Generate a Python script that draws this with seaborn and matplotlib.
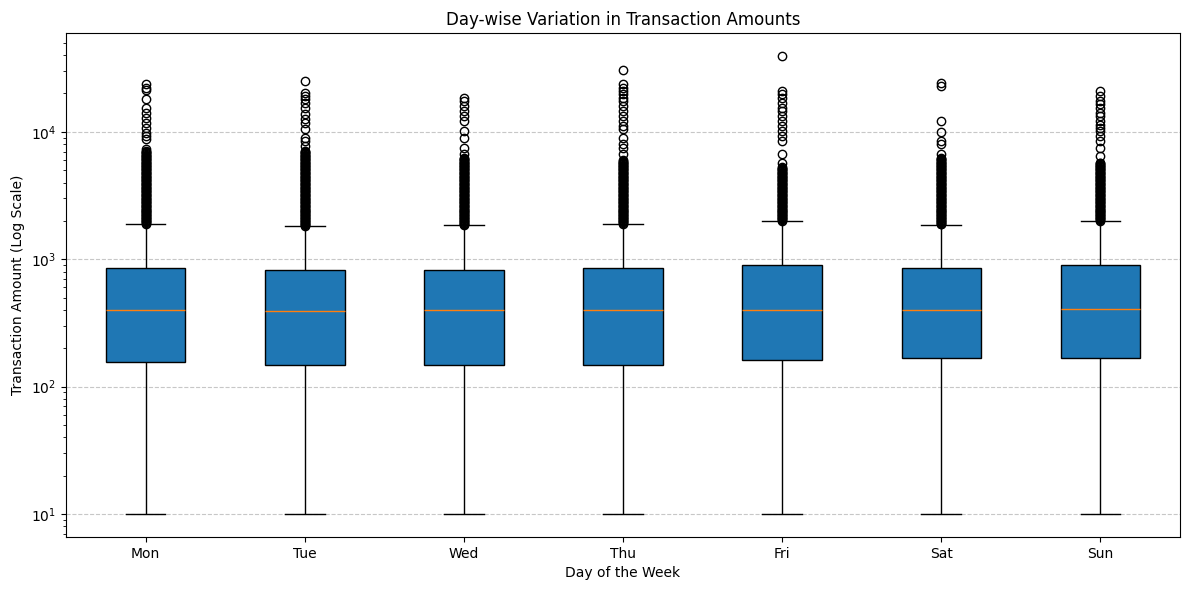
import pandas as pd
import numpy as np
import matplotlib
matplotlib.use("Agg")
import matplotlib.pyplot as plt
import seaborn as sns

days = ["Mon", "Tue", "Wed", "Thu", "Fri", "Sat", "Sun"]

# box summary
whis_lo = [10, 10, 10, 10, 10, 10, 10]
q1 = [156, 148, 148, 148, 162, 168, 168]
med = [398, 391, 398, 398, 398, 398, 405]
q3 = [850, 820, 825, 850, 897, 850, 897]
whis_hi = [1890, 1820, 1840, 1900, 1995, 1870, 1985]

# the solid band of outliers just above each whisker
dense_amounts = [1830, 1855, 1880, 1905, 1930, 1955, 1980, 2005, 2030, 2060, 2090, 2120,
                 2150, 2180, 2210, 2240, 2270, 2300, 2330, 2360, 2390, 2420, 2455, 2490,
                 2525, 2560, 2595, 2630, 2670, 2710, 2750, 2790, 2830, 2870, 2910, 2950,
                 2990, 3030, 3075, 3120, 3165, 3210, 3255, 3300, 3350, 3400, 3450, 3500,
                 3550, 3600, 3650, 3700, 3755, 3810, 3865, 3920, 3975, 4030, 4090, 4150,
                 4210, 4270, 4330, 4390, 4455, 4520, 4585, 4650, 4715, 4780, 4850, 4920,
                 4990, 5060, 5130, 5200, 5275, 5350, 5425, 5500, 5580, 5660, 5740, 5820,
                 5900, 5985, 6070, 6155, 6240, 6330, 6420, 6510, 6600, 6695, 6790, 6885,
                 6980, 7080, 7180, 7280]
dense_lo = [1900, 1830, 1845, 1905, 2005, 1880, 1990]
dense_hi = [7100, 7100, 6260, 6020, 5300, 6300, 5800]

# sparse outliers above the band
mon_fliers = [7300, 8730, 9300, 9850, 10800, 11800, 12900, 14100, 15500, 18000,
              21100, 22200, 23600]
tue_fliers = [7740, 8470, 9000, 10500, 11800, 12500, 13700, 15500, 16900, 18000,
              19100, 20300, 25000]
wed_fliers = [6660, 7500, 9000, 10100, 12200, 13300, 14600, 15900, 17500, 18500]
thu_fliers = [6660, 7500, 7980, 9000, 10500, 11100, 12200, 13300, 14600, 15900,
              17500, 18500, 19700, 20900, 22200, 23600, 30300]
fri_fliers = [5730, 6660, 8470, 9270, 10100, 11100, 12200, 13300, 14600, 15500,
              16900, 18500, 19700, 20900, 39400]
sat_fliers = [6660, 7980, 8470, 10000, 12200, 23000, 24000]
sun_fliers = [6450, 7500, 8470, 9270, 10100, 10800, 11400, 12200, 13300, 14100,
              15500, 16400, 17500, 19100, 20900]
fliers = [mon_fliers, tue_fliers, wed_fliers, thu_fliers, fri_fliers, sat_fliers, sun_fliers]

# long table whose quartiles / whiskers reproduce the summary above
rows = []
for i, d in enumerate(days):
    band = [v for v in dense_amounts if dense_lo[i] <= v <= dense_hi[i]]
    vals = ([whis_lo[i]] + [q1[i]] * 300 + [med[i]] * 300 + [q3[i]] * 300
            + [whis_hi[i]] + band + fliers[i])
    rows += [(d, v) for v in vals]
df = pd.DataFrame(rows, columns=["day", "amount"])

fig, ax = plt.subplots(figsize=(11.9, 5.9), dpi=100)
fig.subplots_adjust(left=66 / 1190, right=1180 / 1190, top=1 - 33 / 590, bottom=1 - 537 / 590)
sns.boxplot(data=df, x="day", y="amount", order=days, ax=ax,
            color="#1f77b4", saturation=1, width=0.5, linecolor="black", linewidth=1,
            whis=1.5, fliersize=6,
            medianprops=dict(color="#ff7f0e", linewidth=1),
            flierprops=dict(marker="o", markerfacecolor="none", markeredgecolor="black"))
ax.set_yscale("log")
ax.yaxis.grid(True, linestyle="--", alpha=0.7)
ax.set_axisbelow(True)
ax.set_title("Day-wise Variation in Transaction Amounts")
ax.set_xlabel("Day of the Week")
ax.set_ylabel("Transaction Amount (Log Scale)")
plt.savefig("out.png")
